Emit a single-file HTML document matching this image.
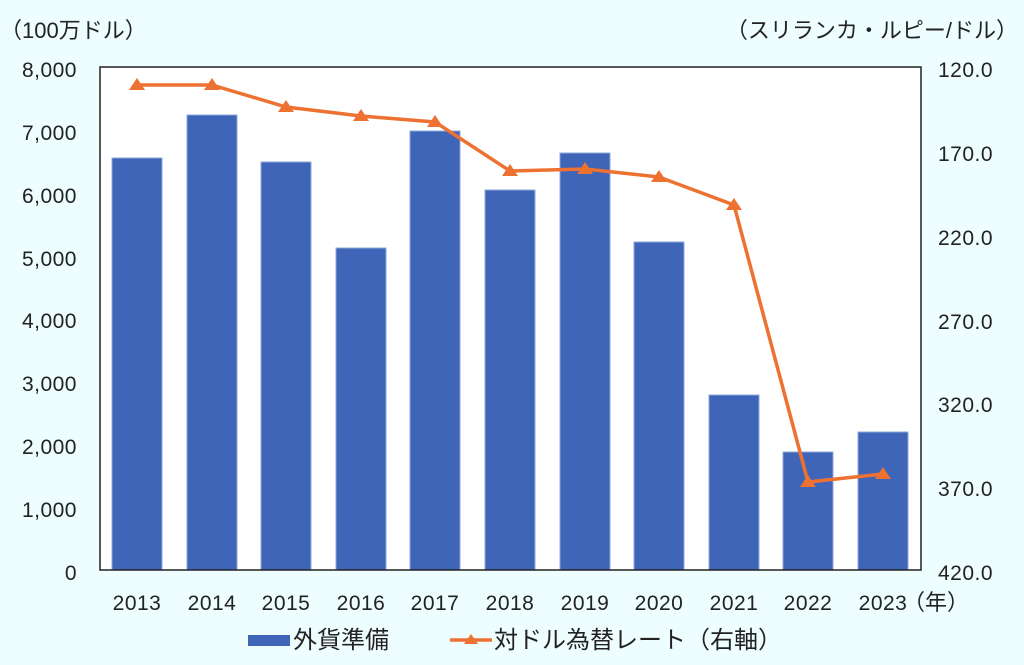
<!DOCTYPE html>
<html><head><meta charset="utf-8"><style>
body{margin:0;background:#eefdfe;}
svg{display:block;font-family:"Liberation Sans","Noto Sans CJK JP",sans-serif;}
</style></head><body>
<svg width="1024" height="665" viewBox="0 0 1024 665">
<rect width="1024" height="665" fill="#eefdfe"/>
<rect x="100" y="67" width="821" height="503" fill="#fff"/>
<g fill="#3f65b8" stroke="#8fa8dc" stroke-width="1">
<rect x="112" y="158" width="50" height="412"/>
<rect x="187" y="115" width="50" height="455"/>
<rect x="261" y="162" width="50" height="408"/>
<rect x="336" y="248" width="50" height="322"/>
<rect x="410" y="131" width="50" height="439"/>
<rect x="485" y="190" width="50" height="380"/>
<rect x="560" y="153" width="50" height="417"/>
<rect x="634" y="242" width="50" height="328"/>
<rect x="709" y="395" width="50" height="175"/>
<rect x="783" y="452" width="50" height="118"/>
<rect x="858" y="432" width="50" height="138"/>
</g>
<rect x="100" y="67" width="821" height="503" fill="none" stroke="#222" stroke-width="1.5"/>
<polyline fill="none" stroke="#ed7130" stroke-width="3.5" stroke-linejoin="round" points="137,85 212,85 286,107 361,116 435,122 510,171 585,169 659,177 734,205 808,482 883,474"/>
<g fill="#ed7130">
<path d="M137,78 l8,12 h-16z"/><path d="M212,78 l8,12 h-16z"/><path d="M286,100 l8,12 h-16z"/><path d="M361,109 l8,12 h-16z"/><path d="M435,115 l8,12 h-16z"/><path d="M510,164 l8,12 h-16z"/><path d="M585,162 l8,12 h-16z"/><path d="M659,170 l8,12 h-16z"/><path d="M734,198 l8,12 h-16z"/><path d="M808,475 l8,12 h-16z"/><path d="M883,467 l8,12 h-16z"/>
</g>
<g font-size="21" fill="#222" text-anchor="end" letter-spacing="0.5">
<text x="77" y="77">8,000</text><text x="77" y="140">7,000</text><text x="77" y="203">6,000</text><text x="77" y="266">5,000</text><text x="77" y="328">4,000</text><text x="77" y="391">3,000</text><text x="77" y="454">2,000</text><text x="77" y="517">1,000</text><text x="77" y="580">0</text>
</g>
<g font-size="21" fill="#222" text-anchor="start" letter-spacing="0.5">
<text x="938" y="77">120.0</text><text x="938" y="161">170.0</text><text x="938" y="245">220.0</text><text x="938" y="329">270.0</text><text x="938" y="412">320.0</text><text x="938" y="496">370.0</text><text x="938" y="580">420.0</text>
</g>
<g font-size="21" fill="#222" text-anchor="middle" letter-spacing="0.5">
<text x="137" y="610">2013</text><text x="212" y="610">2014</text><text x="286" y="610">2015</text><text x="361" y="610">2016</text><text x="435" y="610">2017</text><text x="510" y="610">2018</text><text x="585" y="610">2019</text><text x="659" y="610">2020</text><text x="734" y="610">2021</text><text x="808" y="610">2022</text><text x="883" y="610">2023</text>
</g>
<text x="903" y="610" font-size="22" fill="#222">（年）</text>
<text x="0" y="38" font-size="22" fill="#222">（100万ドル）</text>
<text x="1018" y="38" font-size="22" fill="#222" text-anchor="end">（スリランカ・ルピー/ドル）</text>
<rect x="248" y="635" width="42" height="11" fill="#3f65b8"/>
<text x="293" y="648" font-size="24" fill="#222">外貨準備</text>
<line x1="450" y1="640" x2="492" y2="640" stroke="#ed7130" stroke-width="3.5"/>
<path d="M471,634 l7,10 h-14z" fill="#ed7130"/>
<text x="494" y="648" font-size="24" fill="#222">対ドル為替レート（右軸）</text>
</svg>
</body></html>
